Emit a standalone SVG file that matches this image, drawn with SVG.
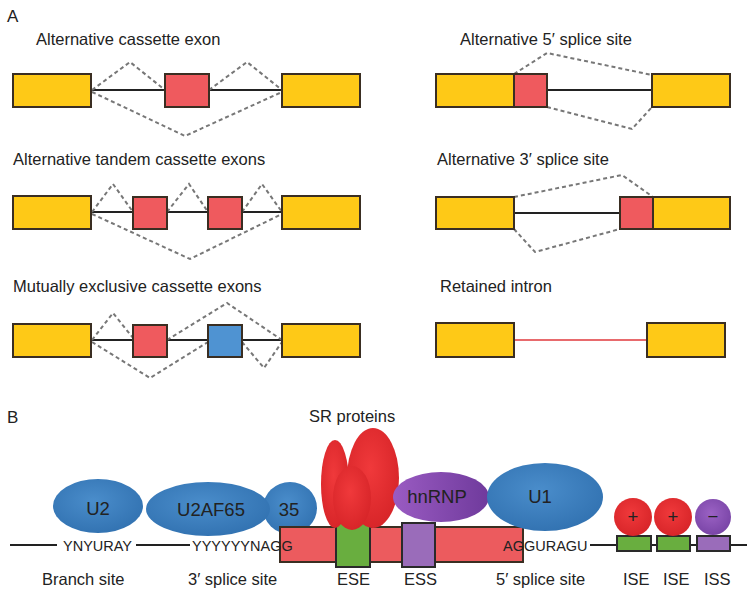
<svg xmlns="http://www.w3.org/2000/svg" width="754" height="598" viewBox="0 0 754 598">
<style>
text{font-family:"Liberation Sans",Arial,sans-serif;fill:#222}
.t{font-size:16.5px}
.ex{fill:#FEC917;stroke:#3a2e22;stroke-width:2}
.alt{fill:#EF5A5E;stroke:#3a2e22;stroke-width:2}
.blu{fill:#4F93D2;stroke:#3a2e22;stroke-width:2}
.in{stroke:#222;stroke-width:2;fill:none}
.ds{stroke:#777;stroke-width:2;stroke-dasharray:4 3;fill:none}
.seq{font-size:14.5px}
.pl{font-size:18.5px;text-anchor:middle}
.sm{stroke:#2a2a2a;stroke-width:2}
</style>
<defs>
<radialGradient id="gb" cx="0.45" cy="0.4" r="0.7"><stop offset="0" stop-color="#4A8DCB"/><stop offset="1" stop-color="#2F6FAE"/></radialGradient>
<radialGradient id="gr" cx="0.45" cy="0.4" r="0.7"><stop offset="0" stop-color="#F0393B"/><stop offset="1" stop-color="#D42226"/></radialGradient>
<linearGradient id="gp" x1="0" y1="0" x2="1" y2="0"><stop offset="0" stop-color="#9A5BC2"/><stop offset="1" stop-color="#6F3A9C"/></linearGradient>
<radialGradient id="gpc" cx="0.45" cy="0.4" r="0.7"><stop offset="0" stop-color="#9B62C4"/><stop offset="1" stop-color="#7440A2"/></radialGradient>
</defs>

<text x="7" y="22" style="font-size:17px">A</text>

<g id="cassette">
<text class="t" x="36" y="45">Alternative cassette exon</text>
<line class="in" x1="91" y1="90" x2="282" y2="90"/>
<polyline class="ds" points="92,90 130,62 165,90"/>
<polyline class="ds" points="209,90 247,62 282,90"/>
<polyline class="ds" points="92,92 185,136 282,92"/>
<rect class="ex" x="13" y="74" width="78" height="33"/>
<rect class="alt" x="165" y="74" width="44" height="33"/>
<rect class="ex" x="282" y="74" width="78" height="33"/>
</g>

<g id="alt5">
<text class="t" x="460" y="45">Alternative 5′ splice site</text>
<line class="in" x1="547" y1="90" x2="652" y2="90"/>
<polyline class="ds" points="514,74 547,53 652,75"/>
<polyline class="ds" points="547,107 632,129 652,107"/>
<rect class="ex" x="436" y="74" width="78" height="33"/>
<rect class="alt" x="514" y="74" width="33" height="33"/>
<rect class="ex" x="652" y="74" width="78" height="33"/>
</g>

<g id="tandem">
<text class="t" x="13" y="165">Alternative tandem cassette exons</text>
<line class="in" x1="91" y1="212" x2="282" y2="212"/>
<polyline class="ds" points="92,212 113,184 133,212"/>
<polyline class="ds" points="167,212 189,184 208,212"/>
<polyline class="ds" points="242,212 262,184 282,212"/>
<polyline class="ds" points="92,214 190,259 282,214"/>
<rect class="ex" x="13" y="196" width="78" height="33"/>
<rect class="alt" x="133" y="197" width="34" height="32"/>
<rect class="alt" x="208" y="197" width="34" height="32"/>
<rect class="ex" x="282" y="196" width="78" height="33"/>
</g>

<g id="alt3">
<text class="t" x="437" y="165">Alternative 3′ splice site</text>
<line class="in" x1="514" y1="213" x2="620" y2="213"/>
<polyline class="ds" points="514,197 622,175 653,197"/>
<polyline class="ds" points="514,229 535,252 620,229"/>
<rect class="ex" x="436" y="197" width="78" height="32"/>
<rect class="alt" x="620" y="197" width="33" height="32"/>
<rect class="ex" x="653" y="197" width="77" height="32"/>
</g>

<g id="mutex">
<text class="t" x="13" y="292">Mutually exclusive cassette exons</text>
<line class="in" x1="91" y1="340" x2="282" y2="340"/>
<polyline class="ds" points="92,340 113,313 133,338"/>
<polyline class="ds" points="167,340 227,303 282,340"/>
<polyline class="ds" points="92,342 150,378 208,342"/>
<polyline class="ds" points="242,342 264,368 282,342"/>
<rect class="ex" x="13" y="324" width="78" height="33"/>
<rect class="alt" x="133" y="325" width="34" height="32"/>
<rect class="blu" x="208" y="325" width="34" height="32"/>
<rect class="ex" x="282" y="324" width="78" height="33"/>
</g>

<g id="retained">
<text class="t" x="440" y="292">Retained intron</text>
<line x1="514" y1="340" x2="647" y2="340" stroke="#E0393C" stroke-width="1.5"/>
<rect class="ex" x="436" y="323" width="78" height="34"/>
<rect class="ex" x="647" y="323" width="78" height="34"/>
</g>

<text x="7" y="423" style="font-size:17px">B</text>

<g id="connectors">
<line class="in" x1="10" y1="545" x2="57" y2="545"/>
<line class="in" x1="136" y1="545" x2="190" y2="545"/>
<line class="in" x1="590" y1="545" x2="747" y2="545"/>
</g>

<g id="u2">
<ellipse cx="98" cy="506" rx="45" ry="27" fill="url(#gb)"/>
<text class="pl" x="98" y="515">U2</text>
</g>
<g id="u2af">
<ellipse cx="290" cy="508" rx="27" ry="26" fill="url(#gb)"/>
<ellipse cx="208" cy="509" rx="62" ry="27" fill="url(#gb)"/>
<text class="pl" x="211" y="516">U2AF65</text>
<text class="pl" x="289" y="516">35</text>
</g>

<g id="exon">
<rect x="280" y="527" width="243" height="35" fill="#EC5B5E" stroke="#3a2e22" stroke-width="2"/>
<rect x="336" y="523" width="34" height="44" fill="#69AE3F" stroke="#2a2a2a" stroke-width="2"/>
<rect x="402" y="523" width="33" height="44" fill="#9A6CBA" stroke="#2a2a2a" stroke-width="2"/>
</g>

<g id="sr">
<text class="t" x="309" y="422">SR proteins</text>
<ellipse cx="335" cy="484" rx="14" ry="44" fill="url(#gr)"/>
<ellipse cx="373" cy="478" rx="26" ry="50" fill="url(#gr)"/>
<ellipse cx="352" cy="498" rx="19" ry="32" fill="url(#gr)"/>
</g>

<g id="hnrnp">
<ellipse cx="441" cy="497" rx="48" ry="25" fill="url(#gp)"/>
<text class="pl" x="437" y="503">hnRNP</text>
</g>

<g id="u1">
<ellipse cx="545" cy="497" rx="58" ry="34" fill="url(#gb)"/>
<text class="pl" x="540" y="503">U1</text>
</g>

<g id="seqs">
<text class="seq" x="63" y="551">YNYURAY</text>
<text class="seq" x="192" y="551">YYYYYYNAGG</text>
<text class="seq" x="503" y="551">AGGURAGU</text>
</g>

<g id="intronic">
<rect x="617" y="536" width="34" height="15" fill="#69AE3F" class="sm"/>
<rect x="657" y="536" width="33" height="15" fill="#69AE3F" class="sm"/>
<rect x="697" y="536" width="33" height="15" fill="#9A6CBA" class="sm"/>
<circle cx="633" cy="517" r="19" fill="url(#gr)"/>
<circle cx="673" cy="517" r="19" fill="url(#gr)"/>
<circle cx="713" cy="517" r="18" fill="url(#gpc)"/>
<text class="pl" x="633" y="523">+</text>
<text class="pl" x="673" y="523">+</text>
<text class="pl" x="713" y="523">−</text>
</g>

<g id="labels">
<text class="t" x="42" y="585">Branch site</text>
<text class="t" x="188" y="585">3′ splice site</text>
<text class="t" x="337" y="585">ESE</text>
<text class="t" x="404" y="585">ESS</text>
<text class="t" x="496" y="585">5′ splice site</text>
<text class="t" x="623" y="585">ISE</text>
<text class="t" x="663" y="585">ISE</text>
<text class="t" x="704" y="585">ISS</text>
</g>
</svg>
